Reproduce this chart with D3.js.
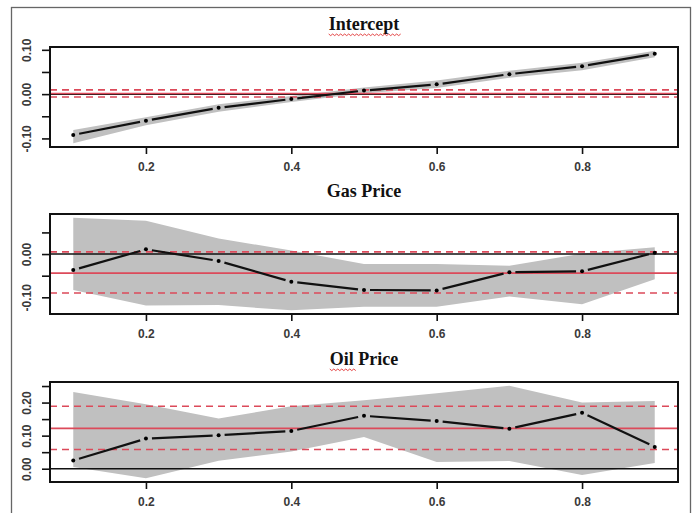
<!DOCTYPE html>
<html>
<head>
<meta charset="utf-8">
<script src="https://cdn.jsdelivr.net/npm/d3@7"></script>
<style>
  html, body { margin: 0; padding: 0; background: #fff; }
  svg { display: block; }
</style>
</head>
<body>
<div id="chart"></div>
<script>
// ---------------- data ----------------
const taus = [0.1, 0.2, 0.3, 0.4, 0.5, 0.6, 0.7, 0.8, 0.9];

const titles = ["Intercept", "Gas Price", "Oil Price"];

const interceptEst = [-0.092, -0.060, -0.031, -0.011, 0.008, 0.022, 0.045, 0.063, 0.091];
const interceptLo  = [-0.111, -0.070, -0.040, -0.018, 0.002, 0.014, 0.037, 0.054, 0.083];
const interceptHi  = [-0.081, -0.052, -0.023, -0.004, 0.015, 0.031, 0.053, 0.071, 0.098];

const gasEst = [-0.037, 0.011, -0.016, -0.064, -0.083, -0.084, -0.042, -0.040, 0.003];
const gasLo  = [-0.083, -0.119, -0.118, -0.130, -0.122, -0.122, -0.098, -0.116, -0.058];
const gasHi  = [0.084, 0.077, 0.036, 0.008, -0.023, -0.023, -0.027, 0.001, 0.016];

const oilEst = [0.025, 0.091, 0.101, 0.114, 0.160, 0.144, 0.121, 0.169, 0.066];
const oilLo  = [0.005, -0.029, 0.024, 0.052, 0.096, 0.020, 0.023, -0.019, 0.017];
const oilHi  = [0.232, 0.195, 0.152, 0.189, 0.207, 0.228, 0.251, 0.200, 0.205];

// OLS coefficient and its confidence bounds (red lines)
const olsCoef = [0.0015, -0.044, 0.122];
const olsLo   = [-0.0065, -0.090, 0.058];
const olsHi   = [0.0095, 0.005, 0.189];

const xTicks = [0.2, 0.4, 0.6, 0.8];
const yTicksIntercept = [-0.10, -0.05, 0.00, 0.05, 0.10];
const yTicksGas       = [-0.10, -0.05, 0.00, 0.05];
const yTicksOil       = [0.00, 0.05, 0.10, 0.15, 0.20, 0.25];
const yLabelsIntercept = ["-0.10", "0.00", "0.10"];
const yLabelsGas       = ["-0.10", "0.00"];
const yLabelsOil       = ["0.00", "0.10", "0.20"];
const misspelled = ["Intercept", "", "Oil"];

const panels = [
  {title: titles[0], est: interceptEst, lo: interceptLo, hi: interceptHi, ticks: yTicksIntercept, labels: yLabelsIntercept},
  {title: titles[1], est: gasEst, lo: gasLo, hi: gasHi, ticks: yTicksGas, labels: yLabelsGas},
  {title: titles[2], est: oilEst, lo: oilLo, hi: oilHi, ticks: yTicksOil, labels: yLabelsOil}
];

// ---------------- layout ----------------
const W = 697, H = 513;
const plotLeft = 50, plotRight = 678;
const panelTops = [47, 214, 382];
const panelH = 100;
const RED = "#dc4a5a";
const fmt2 = v => (Math.abs(v) < 1e-9 ? 0 : v).toFixed(2);

const svg = d3.select("#chart").append("svg").attr("width", W).attr("height", H);

// outer frame (screenshot border)
svg.append("rect").attr("x", 11.5).attr("y", 7.5).attr("width", 679).attr("height", 530)
  .attr("fill", "none").attr("stroke", "#666").attr("stroke-width", 1.3);

const xPad = (d3.max(taus) - d3.min(taus)) * 0.04;
const x = d3.scaleLinear()
  .domain([d3.min(taus) - xPad, d3.max(taus) + xPad])
  .range([plotLeft, plotRight]);

panels.forEach((p, i) => {
  const top = panelTops[i], bottom = top + panelH;
  const lo = d3.min(p.lo), hi = d3.max(p.hi);
  const pad = (hi - lo) * 0.04;
  const y = d3.scaleLinear().domain([lo - pad, hi + pad]).range([bottom, top]);

  const g = svg.append("g");
  const clipId = "clip" + i;
  g.append("clipPath").attr("id", clipId).append("rect")
    .attr("x", plotLeft).attr("y", top).attr("width", plotRight - plotLeft).attr("height", panelH);
  const inner = g.append("g").attr("clip-path", `url(#${clipId})`);

  // confidence band
  const rows = taus.map((t, k) => ({t, e: p.est[k], l: p.lo[k], h: p.hi[k]}));
  inner.append("path").datum(rows)
    .attr("d", d3.area().x(d => x(d.t)).y0(d => y(d.l)).y1(d => y(d.h)))
    .attr("fill", "#c0c0c0");

  // zero line
  inner.append("line").attr("x1", plotLeft).attr("x2", plotRight)
    .attr("y1", y(0)).attr("y2", y(0)).attr("stroke", "#111").attr("stroke-width", 1.6);

  // OLS lines
  inner.append("line").attr("x1", plotLeft).attr("x2", plotRight)
    .attr("y1", y(olsCoef[i])).attr("y2", y(olsCoef[i])).attr("stroke", RED).attr("stroke-width", 1.6);
  [olsLo[i], olsHi[i]].forEach(v => {
    inner.append("line").attr("x1", plotLeft).attr("x2", plotRight)
      .attr("y1", y(v)).attr("y2", y(v)).attr("stroke", RED).attr("stroke-width", 1.6)
      .attr("stroke-dasharray", "7,5");
  });

  // estimate: type "b" — segments with gaps round the points
  const gap = 6;
  for (let k = 0; k < rows.length - 1; k++) {
    const x1 = x(rows[k].t), y1 = y(rows[k].e), x2 = x(rows[k + 1].t), y2 = y(rows[k + 1].e);
    const dx = x2 - x1, dy = y2 - y1, len = Math.hypot(dx, dy);
    if (len <= 2 * gap) continue;
    const ux = dx / len, uy = dy / len;
    inner.append("line")
      .attr("x1", x1 + ux * gap).attr("y1", y1 + uy * gap)
      .attr("x2", x2 - ux * gap).attr("y2", y2 - uy * gap)
      .attr("stroke", "#111").attr("stroke-width", 2.2);
  }
  inner.selectAll("circle.pt").data(rows).enter().append("circle")
    .attr("cx", d => x(d.t)).attr("cy", d => y(d.e)).attr("r", 2).attr("fill", "#000");

  // box
  g.append("rect").attr("x", plotLeft).attr("y", top).attr("width", plotRight - plotLeft).attr("height", panelH)
    .attr("fill", "none").attr("stroke", "#111").attr("stroke-width", 2);

  // x axis
  const xa = g.append("g").attr("transform", `translate(0,${bottom})`)
    .call(d3.axisBottom(x).tickValues(xTicks).tickSize(7).tickPadding(8).tickFormat(d => d.toFixed(1)));
  xa.select(".domain").remove();
  xa.selectAll("line").attr("stroke", "#111").attr("stroke-width", 1.6);
  xa.selectAll("text").attr("font-family", "Liberation Sans, Arial, sans-serif")
    .attr("font-size", 12).attr("font-weight", "bold").attr("fill", "#3a3a3a");

  // y axis
  const ya = g.append("g").attr("transform", `translate(${plotLeft},0)`)
    .call(d3.axisLeft(y).tickValues(p.ticks).tickSize(8).tickFormat(fmt2));
  ya.select(".domain").attr("stroke", "#111").attr("stroke-width", 1.6)
    .attr("d", `M0,${y(d3.min(p.ticks))}V${y(d3.max(p.ticks))}`);
  ya.selectAll("line").attr("stroke", "#111").attr("stroke-width", 1.6);
  ya.selectAll(".tick text").each(function(d) {
    const t = d3.select(this);
    const lbl = fmt2(d);
    if (!p.labels.includes(lbl)) { t.remove(); return; }
    t.text(lbl).attr("x", null).attr("dy", null).attr("text-anchor", "middle")
      .attr("dominant-baseline", "central")
      .attr("transform", `translate(-23,0) rotate(-90)`)
      .attr("font-family", "Liberation Sans, Arial, sans-serif")
      .attr("font-size", 12).attr("font-weight", "bold").attr("fill", "#3a3a3a");
  });

  // title
  const cx = (plotLeft + plotRight) / 2;
  const title = g.append("text").attr("x", cx).attr("y", top - 17)
    .attr("text-anchor", "middle")
    .attr("font-family", "Liberation Serif, 'Times New Roman', serif")
    .attr("font-weight", "bold").attr("font-size", 18).attr("fill", "#111")
    .text(p.title);
  if (misspelled[i]) {
    const node = title.node();
    const total = node.getComputedTextLength();
    const wlen = node.getSubStringLength(0, misspelled[i].length);
    const x0 = cx - total / 2, yy = top - 13;
    let d = `M${x0},${yy}`;
    for (let s = 0, k = 0; s < wlen; s += 2, k++) d += `L${x0 + s + 2},${yy + (k % 2 ? 0 : 1.6)}`;
    g.append("path").attr("d", d).attr("fill", "none").attr("stroke", "#e03030").attr("stroke-width", 0.9);
  }
});
</script>
</body>
</html>
